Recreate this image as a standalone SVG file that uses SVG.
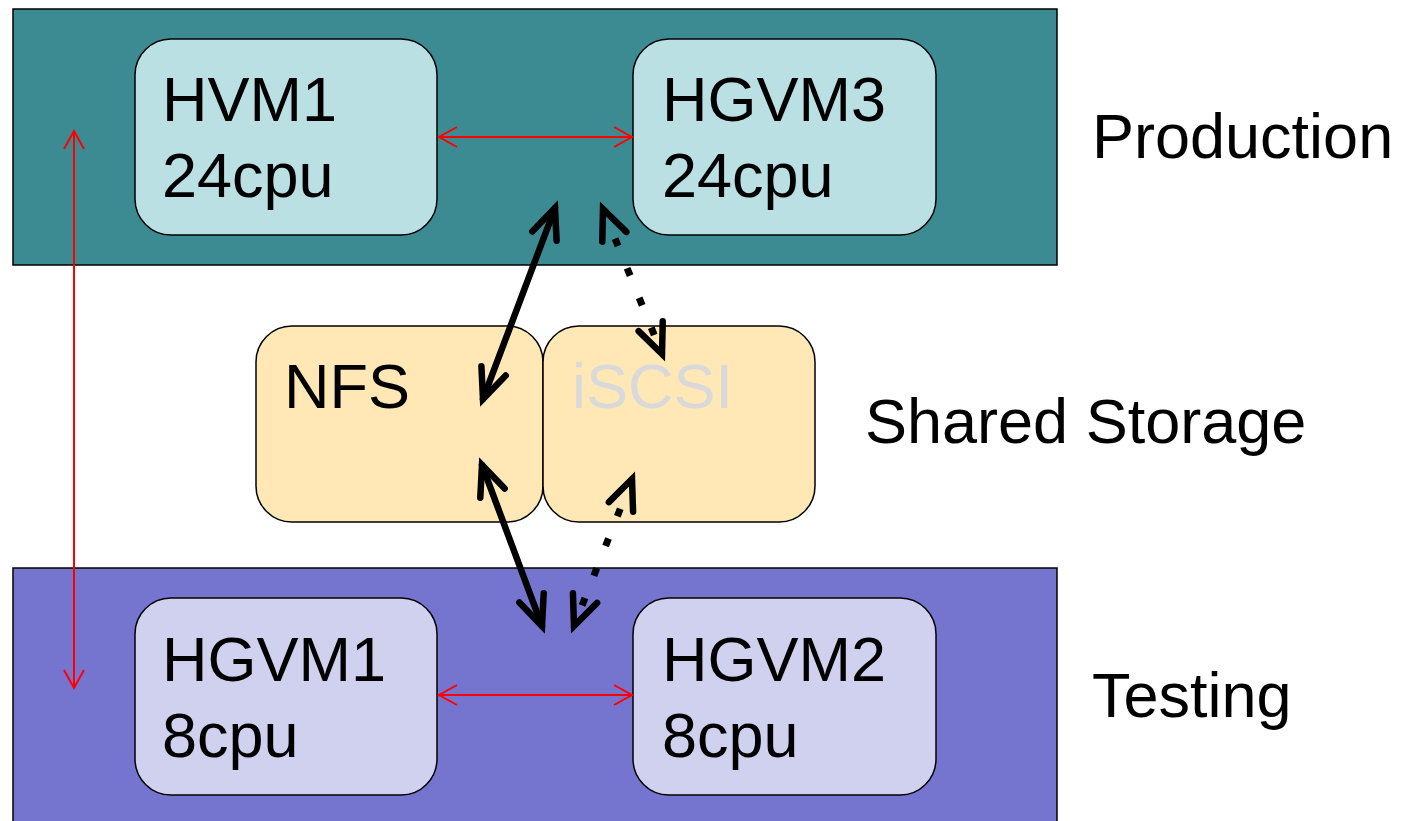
<svg xmlns="http://www.w3.org/2000/svg" width="1410" height="821" viewBox="0 0 1410 821">
<style>
text{font-family:"Liberation Sans",Arial,sans-serif;font-size:63px;fill:#000}
.band{stroke:#000;stroke-width:1.5}
.vm{stroke:#000;stroke-width:1.5}
.red{stroke:#f00;stroke-width:2;fill:none}
.blk{stroke:#000;stroke-width:6.5;fill:none;stroke-linecap:round}
.dot{stroke:#000;stroke-width:7;fill:none;stroke-dasharray:8 24}
</style>
<defs>
<marker id="ar" markerUnits="userSpaceOnUse" orient="auto-start-reverse" refX="0" refY="0" markerWidth="30" markerHeight="30" viewBox="-25 -15 30 30" overflow="visible">
<path d="M-18,-10 L0,0 L-18,10" fill="none" stroke="#f00" stroke-width="2"/>
</marker>
<marker id="ab" markerUnits="userSpaceOnUse" orient="auto-start-reverse" refX="0" refY="0" markerWidth="40" markerHeight="40" viewBox="-35 -20 40 40" overflow="visible">
<path d="M-30,-13 L0,0 L-30,13" fill="none" stroke="#000" stroke-width="6.5" stroke-linecap="round" stroke-linejoin="miter"/>
</marker>
</defs>
<rect width="1410" height="821" fill="#fff"/>
<g id="production">
<rect class="band" x="13" y="9" width="1044" height="256" fill="#3D8B92"/>
<text x="1092" y="158">Production</text>
</g>
<g id="testing">
<rect class="band" x="13" y="568" width="1044" height="262" fill="#7575CF"/>
<text x="1092" y="717">Testing</text>
</g>
<g id="shared-storage">
<text x="865" y="443">Shared Storage</text>
</g>
<g id="hvm1">
<rect class="vm" x="135" y="39" width="302" height="196" rx="36" fill="#BAE0E3"/>
<text x="162" y="121">HVM1</text>
<text x="162" y="197">24cpu</text>
</g>
<g id="hgvm3">
<rect class="vm" x="633" y="39" width="303" height="196" rx="36" fill="#BAE0E3"/>
<text x="662" y="121">HGVM3</text>
<text x="662" y="197">24cpu</text>
</g>
<g id="nfs">
<rect class="vm" x="256" y="326" width="287" height="196" rx="36" fill="#FFE8B6"/>
<text x="284" y="408">NFS</text>
</g>
<g id="iscsi">
<rect class="vm" x="543" y="326" width="272" height="196" rx="36" fill="#FFE8B6"/>
<text x="572" y="408" style="fill:#D9D9D9">iSCSI</text>
</g>
<g id="hgvm1">
<rect class="vm" x="135" y="598" width="302" height="197" rx="36" fill="#D0D0EF"/>
<text x="162" y="681">HGVM1</text>
<text x="162" y="757">8cpu</text>
</g>
<g id="hgvm2">
<rect class="vm" x="633" y="598" width="303" height="197" rx="36" fill="#D0D0EF"/>
<text x="662" y="681">HGVM2</text>
<text x="662" y="757">8cpu</text>
</g>
<g id="connectors">
<line class="red" x1="439" y1="137" x2="632" y2="137" marker-start="url(#ar)" marker-end="url(#ar)"/>
<line class="red" x1="439" y1="695" x2="632" y2="695" marker-start="url(#ar)" marker-end="url(#ar)"/>
<line class="red" x1="74" y1="131" x2="74" y2="688" marker-start="url(#ar)" marker-end="url(#ar)"/>
<line class="blk" x1="555" y1="208" x2="483" y2="399" marker-start="url(#ab)" marker-end="url(#ab)"/>
<line class="blk" x1="482" y1="465" x2="542" y2="626" marker-start="url(#ab)" marker-end="url(#ab)"/>
<line class="dot" x1="603" y1="209" x2="662" y2="354" marker-start="url(#ab)" marker-end="url(#ab)"/>
<line class="dot" x1="632" y1="479" x2="574" y2="626" marker-start="url(#ab)" marker-end="url(#ab)"/>
</g>
</svg>
